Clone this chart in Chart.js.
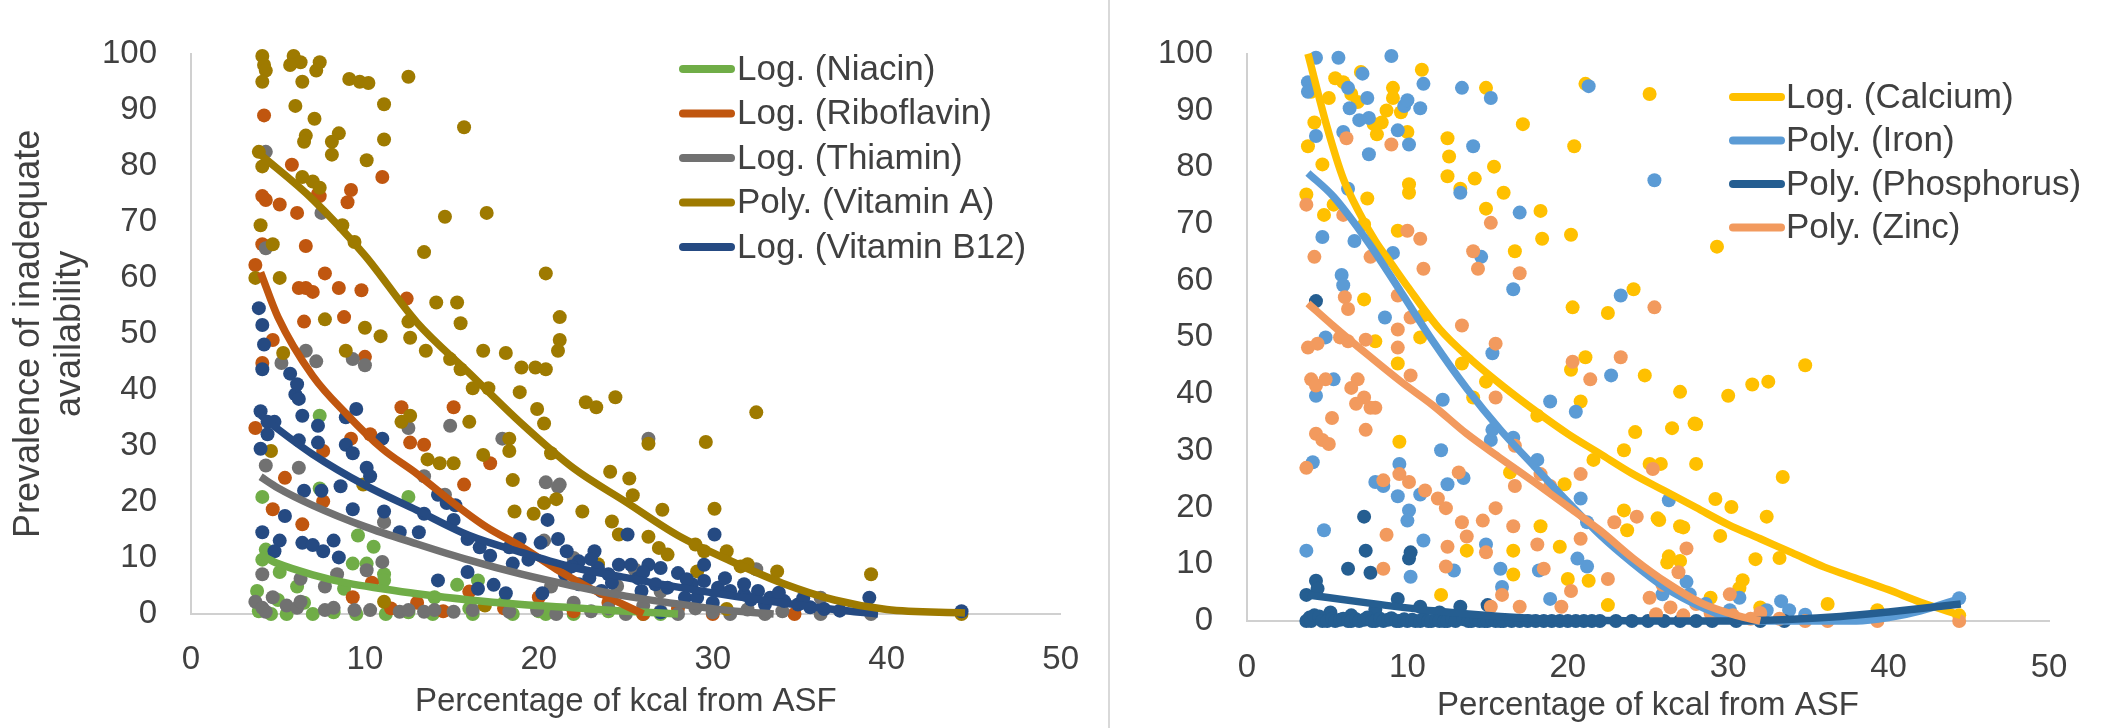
<!DOCTYPE html>
<html>
<head>
<meta charset="utf-8">
<script src="https://cdn.jsdelivr.net/npm/chart.js@4/dist/chart.umd.min.js"></script>
<style>
  html, body { margin: 0; padding: 0; background: #fff; }
  #wrap { position: relative; width: 2101px; height: 728px; overflow: hidden; }
  #left { position: absolute; left: 0; top: 0; width: 1105px; height: 728px; }
  #right { position: absolute; left: 1110px; top: 0; width: 991px; height: 728px; }
  #sep { position: absolute; left: 1108px; top: 0; width: 2px; height: 728px; background: #d9d9d9; }
</style>
</head>
<body>
<div id="wrap">
  <canvas id="left" width="1105" height="728"></canvas>
  <div id="sep"></div>
  <canvas id="right" width="991" height="728"></canvas>
</div>
<script>
// ---- data: [percentage of kcal from ASF, prevalence] ----
const niacin = [[4.1,20.9],[12.5,20.9],[7.4,35.4],[7.4,22.4],[4.1,9.7],[5.1,7.5],[6.1,4.9],[9.3,9],[10.1,9],[11.1,7.1],[11.1,6],[15.3,5.2],[3.8,4.1],[8.8,4.5],[4.3,11.5],[9.6,14],[10.5,12],[16.5,6],[14,3],[6.5,2],[5,2.5],[3.9,0.5],[4.6,0],[5.5,0],[7,0],[8.2,0.3],[9.5,0],[11.2,0],[12.5,0.3],[13.9,0],[16,1],[16.2,0],[18,2],[18.5,0],[20,0.5],[20.4,0],[22,0],[24,0.5],[26,0],[27,0]];
const riboflavin = [[4.2,89],[5.8,80.2],[11,78],[4.1,74.6],[4.3,73.9],[5.1,73.1],[6.1,71.6],[7.3,75],[7.4,74.6],[9.2,75.7],[9,73.5],[4.1,66],[6.6,65.7],[7.7,60.8],[3.7,62.3],[6.2,58.2],[6.6,58.2],[7,57.5],[8.5,58.2],[9.8,57.8],[12.4,56.3],[6.5,52.2],[8.8,53],[4.7,48.9],[4.1,44.8],[10,45.9],[3.7,33.2],[12.1,36.9],[15.1,36.9],[12.6,30.6],[13.4,30.2],[9.2,31.3],[10.3,32.1],[5.4,24.3],[7.6,29.1],[15.7,23.1],[17.2,26.9],[4.7,18.7],[6.4,16],[7.6,20.1],[9.3,3],[10.4,5.6],[13,2],[16,4],[18,1],[20,3],[22,0.5],[24,2],[26,0],[28,1],[30,0],[34.7,0],[11.5,1],[14.5,0.5]];
const thiamin = [[4.3,82.5],[4.3,65.3],[7.5,71.6],[6.6,47],[7.2,45.1],[5.2,44.8],[9.3,45.5],[10,44.4],[12.5,33.2],[14.9,33.6],[17.9,31.3],[4.3,26.5],[6.2,26.1],[13.4,24.6],[20.4,23.5],[21.2,23.1],[11.1,16.4],[14.6,21.3],[4.1,7.1],[6.3,6.3],[7.7,4.9],[8.4,7.1],[10.1,7.8],[11,9.3],[20.3,13.1],[20.7,4.9],[3.7,2.2],[4.1,1.1],[4.7,3],[4.3,0.4],[5.5,1.5],[6.1,1.1],[6.3,2.2],[7.7,0.7],[8.2,1.1],[9.4,0.7],[10.3,0.7],[12,0.4],[12.5,0.7],[13.4,0.4],[14,0.7],[15.1,0.4],[16.2,0.7],[18.3,0.4],[19.9,0.7],[21,0],[26.3,31.3],[21.1,22.7],[32.5,8],[36.2,2.9],[22,2],[23,0.5],[24,1],[25,0],[26,1.5],[27,0.5],[28,0],[29,1],[30,0.3],[31,0],[32,0.8],[33,0],[34,0.5],[36.2,0],[39.1,0],[24.5,5],[27,4],[22,10],[25.5,8]];
const vitaminA = [[4.1,99.6],[4.2,98],[4.3,97],[4.1,95],[5.9,99.6],[6.3,98.5],[5.7,98],[7.4,98.5],[7.2,97],[6.4,95],[9.1,95.5],[9.7,95],[10.2,94.8],[12.5,95.9],[6,90.7],[7.1,88.4],[11.1,91],[8.5,85.8],[6.6,85.4],[6.5,84.3],[8.1,84.3],[8.1,82],[10.1,81],[11.1,84.7],[15.7,86.9],[3.9,82.5],[4.1,79.9],[6.4,78],[7,77.2],[7.4,76.1],[4,69.4],[4.7,66],[8.7,69.4],[9.4,66.4],[14.6,70.9],[17,71.6],[13.4,64.6],[3.7,60],[5.1,60],[20.4,60.8],[7.7,52.6],[10,51.1],[10.9,49.6],[14.1,55.6],[15.3,55.6],[15.5,51.9],[12.5,52.2],[12.6,49.3],[13.5,47],[16.8,47],[18.1,46.6],[21.2,53],[21.2,48.9],[21.1,47],[8.9,47],[5.3,46.6],[14.9,45.5],[15.5,43.7],[19,44],[19.8,44],[20.4,43.7],[16.2,40.3],[17.1,40.3],[18.9,39.6],[19.9,36.6],[20.3,34],[12.1,34.3],[12.6,35.4],[16,34.3],[18.3,31.3],[18.3,29.1],[20.7,28.7],[13.6,27.6],[14.3,26.9],[15.1,26.9],[16.8,28.4],[18.5,23.9],[20.3,19.8],[21,20.5],[18.6,18.3],[19.7,17.9],[4.6,29.1],[9.9,23.1],[11.1,2.2],[16.9,1.5],[22.7,37.8],[23.3,36.9],[24.4,38.7],[32.5,36],[26.3,30.4],[29.6,30.7],[24.1,25.4],[25.2,24.2],[25.4,21.2],[27.1,18.6],[30.1,18.8],[22.5,18.3],[24.2,16.5],[24.6,14.2],[26.3,13.8],[26.9,11.8],[27.4,10.6],[29,12.4],[29.5,11.2],[30.8,11.2],[31.6,8.5],[32,8.9],[33.7,7.6],[39.1,7.1],[30.8,0.9],[44.3,0],[23.4,8.9],[29.1,7.6]];
const vitaminB12 = [[3.9,54.6],[4.1,51.6],[4.2,48.1],[4.1,43.7],[6,39.2],[5.7,42.9],[6.1,41],[6.2,38.4],[4,36.2],[4.4,34.3],[4.8,34.3],[4.4,32.1],[4,29.5],[6.4,35.4],[6.2,31],[7.3,33.6],[7.3,30.6],[9.5,36.6],[8.9,35.1],[8.9,30.2],[9.3,28.7],[11,31.3],[10.1,26.1],[10.3,24.6],[9.3,18.7],[6.5,22],[7.5,22],[8.6,22.8],[4.1,14.6],[5.1,13.1],[5.4,17.5],[6.4,12.7],[7,12.3],[7.6,11.2],[8.2,13.1],[4.8,11.2],[8.5,10.1],[11.1,18.3],[12,14.6],[13.4,17.9],[14.2,21.3],[14.7,19.8],[15.1,16.8],[15.2,19.4],[13.1,14.6],[14.2,6],[15.9,13.4],[16.6,11.9],[17.2,10.4],[18.3,11.9],[18.9,13.4],[19.4,9.7],[20.1,12.7],[20.5,16.8],[21.1,13.4],[21.6,11.2],[15.9,7.5],[16.5,4.5],[18.1,3.7],[18.5,9],[20.2,3.7],[17.4,5.2],[25.1,14.2],[23.2,11.2],[30.1,14.2],[39,2.9],[44.3,0.5],[27,0.3],[22.3,9.4],[23.4,8.2],[24.6,8.8],[25.3,8.8],[26.3,8.8],[27,8.2],[28,7.3],[21.5,7.1],[22.9,6.4],[24,7.1],[25.7,6.4],[26.7,5.3],[27.4,4.7],[28.8,5.3],[29.5,8.8],[29.5,5.9],[30.3,4.7],[31,4.1],[31.8,3.5],[32.6,4.1],[33.3,2.9],[34.1,2.3],[34.9,1.7],[35.6,1.2],[37.3,0.6],[30.7,6.4],[31.8,5.3],[28.4,2.9],[25.9,4.1],[23.6,4.1],[22.3,5.3],[29.1,2.9],[33,1.7],[21.9,8.5],[23,9.8],[24.2,5.6],[26,7.5],[28.5,6.2],[30,2],[32.2,2.6],[33.8,3.8],[35.2,2.8],[36.4,0.9]];

const calcium = [[4,93.3],[4.2,87.9],[3.8,83.7],[5.5,95.7],[6,95],[6.5,92.9],[6.9,91.5],[5.1,92.2],[4.7,80.5],[7.1,96.8],[9.1,94],[9.1,92.2],[9.6,89.7],[8.7,90],[7.9,87.6],[8.4,87.9],[8.1,85.8],[10,86.2],[10.9,97.2],[12.5,85.1],[12.6,81.9],[12.5,78.4],[13.3,76.2],[14.2,78],[15.4,80.1],[10.1,77],[10.1,75.5],[14.9,94],[17.2,87.6],[20.4,83.7],[21.1,94.7],[25.1,92.9],[16,75.5],[14.9,72.7],[18.3,72.3],[18.4,67.4],[20.2,68.1],[16.7,65.2],[20.3,55.3],[22.5,54.3],[24.1,58.5],[7.3,56.7],[8.6,63.8],[9.4,68.8],[3.7,75.2],[4.8,71.6],[5.4,73.4],[7.3,69.9],[7.5,74.5],[8,49.3],[11,53.9],[10.8,50],[9.4,45.4],[13.4,45.4],[14.1,39.4],[14.9,42.2],[20.2,44.3],[21.1,46.5],[20.8,38.7],[24.8,43.3],[27,40.4],[24.2,33.3],[23.5,30.1],[26.5,34],[27.9,34.8],[18.1,36.2],[19.8,24.1],[9.5,31.6],[16.4,26.2],[21.6,28.4],[23.5,19.5],[25.6,18.1],[25.8,27.7],[27,16.7],[23.7,16],[13.7,12.4],[16.6,12.4],[12.1,4.6],[19.5,13.1],[18.3,16.7],[20,7.4],[21.3,7.1],[22.5,2.8],[16.6,8.2],[26.2,10.3],[27,10.6],[34.8,45.1],[31.5,41.7],[32.5,42.2],[30,39.7],[28,34.7],[28,27.7],[25.1,27.7],[33.4,25.4],[29.2,21.5],[30.2,20.1],[32.4,18.4],[25.7,17.8],[27.2,16.5],[29.5,15],[31.7,10.9],[33.2,11.1],[26.3,11.4],[30.9,7.2],[30.7,5.8],[36.2,3],[39.3,1.9],[44.4,1],[28.9,4.1],[32,2.4],[29.3,66]];
const iron = [[4.3,99.3],[5.7,99.3],[9,99.6],[3.8,95],[3.8,93.3],[6.3,94],[7.2,96.5],[7.5,92.2],[6.4,90.4],[7.6,88.7],[7,88.3],[9.8,90.8],[10,91.8],[10.8,90.4],[11,94.7],[13.4,94],[15.2,92.2],[21.3,94.3],[4.3,85.5],[6,86.2],[9.4,86.5],[10.1,84],[7.6,82.3],[14.1,83.7],[25.4,77.7],[6.3,76.2],[13.3,75.5],[17,72],[14.6,64.2],[16.6,58.5],[23.3,57.4],[4.7,67.7],[5.9,61],[6,59.2],[6.7,67],[9.1,64.9],[8.6,53.5],[4.9,50],[5.4,42.6],[4.3,39.7],[15.3,47.2],[12.2,39],[18.9,38.7],[22.7,43.3],[20.5,36.9],[15.2,31.9],[15.3,33.7],[21.2,17.4],[4.1,28],[3.7,12.4],[4.8,16],[8,24.5],[8.5,23.8],[9.4,22],[9.5,27.7],[10.1,19.5],[10,17.7],[10.8,22.3],[12.1,30.1],[10.2,7.8],[11,14.2],[12.5,24.1],[13.5,25.2],[14.9,13.5],[15.8,9.2],[12.9,8.9],[16.6,32.3],[18.1,28.4],[20.8,21.6],[21.2,9.6],[20.6,11],[18.9,3.9],[15.9,6],[18.2,8.9],[26.3,21.3],[27.4,6.9],[25.9,4.7],[27.6,4.7],[30.7,4.1],[33.3,3.5],[33.8,1.9],[34.8,1.1],[44.4,4],[30.1,1.9],[32.4,1.9],[28.6,3]];
const phosphorus = [[4.3,56.4],[7.3,18.4],[7.4,12.4],[6.3,9.2],[7.7,8.5],[10.1,11],[10.2,12.1],[4.3,7.1],[4.4,5.7],[3.7,4.6],[9.4,3.9],[10.8,2.5],[13.3,2.5],[15,2.8],[5.2,1.5],[6.5,1],[8,2],[12,1.5],[3.7,0],[3.9,0.6],[4,0],[4.2,1],[4.5,0.8],[4.7,0],[5,0],[5.3,0.4],[5.5,0],[5.8,0.2],[6,0.4],[6.3,0],[6.5,0],[6.8,0.3],[7,0],[7.3,0.2],[7.5,0.6],[7.8,0],[8,0],[8.3,0.4],[8.5,0],[8.8,0.2],[9,0.5],[9.3,0],[9.5,0],[9.8,0.3],[10,0],[10.3,0.2],[10.5,0],[10.8,0],[11,0.4],[11.3,0],[11.5,0],[11.8,0.2],[12,0],[12.3,0],[12.5,0],[12.8,0.3],[13,0],[13.5,0.3],[13.8,0],[14,0],[14.3,0.2],[14.5,0],[14.8,0],[15,0],[15.3,0.2],[15.5,0],[15.8,0],[16,0],[16.5,0],[17,0],[17.5,0],[18,0],[18.5,0],[19,0],[19.5,0],[20,0],[20.5,0],[21,0],[21.5,0],[22,0],[23,0],[24,0],[25,0],[26,0],[27,0],[28,0],[29,0],[30.5,0],[32,0],[33.5,0]];
const zinc = [[9,84],[6.2,85.1],[3.7,73.4],[6,71.6],[10,68.8],[10.8,67.4],[15.2,70.2],[4.2,64.2],[14.1,65.2],[14.4,62.1],[17,61.3],[11,62.1],[7.7,64.2],[9.4,57.4],[6.1,57.1],[6.3,55],[10.2,53.5],[9.4,51.4],[13.4,52.1],[3.8,48.2],[4.4,48.9],[5.8,50],[6.3,49.3],[7.4,49.6],[15.5,48.9],[20.3,45.7],[23.3,46.5],[4,42.6],[4.3,41.5],[4.9,42.6],[6.9,42.6],[6.5,41.1],[7.7,37.6],[7.3,39.4],[8,37.6],[10.2,43.3],[9.4,48.2],[15.5,39.4],[21.4,42.6],[25.4,55.3],[4.3,33],[4.7,31.9],[5.1,31.2],[5.3,35.8],[6.8,38.3],[7.4,33.7],[3.7,27],[8.5,24.8],[9.5,25.9],[10.1,24.5],[11.1,23],[8.7,15.2],[11.9,21.6],[12.4,19.9],[13.2,26.2],[14.7,17.7],[13.4,17.4],[13.7,14.9],[12.5,13.1],[8.5,9.2],[12.4,9.6],[14.9,12.1],[15.5,19.9],[16.7,30.9],[16.7,23.8],[18.3,25.9],[18.9,23.8],[20.8,25.9],[18.1,13.5],[18.5,9.2],[20.2,5.3],[19.6,2.5],[16.6,16.7],[20.8,14.5],[22.9,17.4],[22.5,7.4],[24.3,18.4],[15.2,2.5],[17,2.5],[15.9,4.6],[25.3,26.8],[27.4,12.8],[30.1,4.7],[26.9,8.6],[25.9,6.4],[25.1,4.1],[26.4,2.4],[28,3],[28.9,1.4],[32,1.4],[34.8,0],[36.2,0],[39.3,0],[44.4,0],[31.4,0.4],[33.2,0.4],[30.3,1],[25.5,1.2],[27.2,1],[29.3,1]];

// ---- trend lines at a few x positions ----
const trendNiacin = [[4,10.5],[5,9],[7,7],[9,5.5],[11,4.5],[13,3.6],[16,2.5],[19,1.7],[22,1.1],[25,0.5],[28,0]];
const trendRiboflavin = [[4,61],[5,53],[7,42.5],[9,35.5],[11,29.5],[13,25],[15,20],[17,15.5],[19,12],[21,8],[23,4.5],[26,0]];
const trendThiamin = [[4,24.5],[5,22.5],[7,19.4],[10,15.6],[13,12.5],[16,9.6],[19,7.1],[22,5],[25,3.2],[28,1.8],[31,0.6],[33.5,0]];
const trendVitaminA = [[4,82],[7,74],[10,64],[13,52],[16,43],[19,34],[22,26],[25,20],[28,14],[31,9.5],[34,5.5],[37,2.5],[40,0.8],[44.5,0.2]];
const trendVitaminB12 = [[4,35.5],[5,33],[7,28.5],[10,23],[13,18.5],[16,14],[19,11],[22,8.3],[25,6.5],[28,4.8],[31,3.3],[34,2],[37,0.8],[39.5,0]];
const trendCalcium = [[3.8,100],[5,87],[6,78],[7,72],[8,67],[9,63],[10,59],[12,51.5],[14,46],[16,41.3],[18,37],[20,33],[22,29.5],[24,26],[26,23],[28,20],[30,17],[32,14.5],[34,12],[36,9.5],[38,7.5],[40,5.5],[42,3.3],[44.5,1]];
const trendIron = [[3.8,79],[5.4,74.8],[7.5,67],[9.6,58],[11.6,49.3],[13.7,41],[15.8,33.7],[17.9,27.3],[20,21],[22,15.2],[24,10.3],[26,6],[28.3,2.5],[31,0],[35,0],[38,0],[40,0.6],[42,1.8],[44.5,4]];
const trendPhosphorus = [[3.8,4.6],[7.5,3.2],[11.6,1.8],[15.8,0.8],[20,0.2],[25,0],[30,0],[34,0.3],[37,0.8],[40,1.6],[42,2.2],[44.5,3]];
const trendZinc = [[3.8,56],[5.4,52],[7.5,47],[9.6,42.2],[11.6,38],[13.7,33],[15.8,28.7],[17.9,24.5],[20,20.2],[22,16],[24.1,11],[26.2,6.7],[28.3,3.2],[30.5,1],[32,0]];

const xTicks = [0, 10, 20, 30, 40, 50];
const yTicks = [0, 10, 20, 30, 40, 50, 60, 70, 80, 90, 100];

const FONT = '"Liberation Sans", Arial, sans-serif';
const TEXT = '#404040';
const AXIS = '#d0d0d0';

function toXY(pts) { return pts.map(p => ({ x: p[0], y: p[1] })); }

function dots(label, pts, color, order) {
  return {
    type: 'scatter', label, data: toXY(pts),
    backgroundColor: color, borderWidth: 0,
    pointRadius: 7, pointHoverRadius: 7,
    order, clip: false
  };
}

function trend(label, pts, color, order) {
  return {
    type: 'line', label, data: toXY(pts),
    borderColor: color, backgroundColor: color,
    borderWidth: 7.5, pointRadius: 0, pointHoverRadius: 0,
    cubicInterpolationMode: 'monotone', fill: false,
    order, clip: false
  };
}

// draws the trend-line legend inside the plot
const trendLegend = {
  id: 'trendLegend',
  afterDraw(chart, args, opts) {
    const ctx = chart.ctx;
    const items = chart.data.datasets.filter(d => d.type === 'line');
    ctx.save();
    ctx.font = opts.size + 'px ' + FONT;
    ctx.textBaseline = 'middle';
    ctx.textAlign = 'left';
    items.forEach((d, i) => {
      const y = opts.top + i * opts.step;
      ctx.strokeStyle = d.borderColor;
      ctx.lineWidth = 8;
      ctx.lineCap = 'round';
      ctx.beginPath();
      ctx.moveTo(opts.x0, y);
      ctx.lineTo(opts.x1, y);
      ctx.stroke();
      ctx.fillStyle = TEXT;
      ctx.fillText(d.label, opts.tx, y + 1);
    });
    ctx.restore();
  }
};

function makeChart(id, datasets, geo, legend, yTitle) {
  return new Chart(document.getElementById(id), {
    data: { datasets },
    options: {
      responsive: false,
      animation: false,
      events: [],
      layout: { padding: { left: 0, top: geo.top, right: geo.right, bottom: 0 } },
      plugins: {
        legend: { display: false },
        tooltip: { enabled: false },
        trendLegend: legend
      },
      scales: {
        x: {
          type: 'linear', min: 0, max: 50,
          afterBuildTicks: s => { s.ticks = xTicks.map(v => ({ value: v })); },
          ticks: { padding: geo.xPad, color: TEXT, font: { family: FONT, size: 33 } },
          grid: { display: false, drawTicks: false },
          border: { display: true, color: AXIS, width: 2 },
          title: {
            display: true, text: 'Percentage of kcal from ASF', color: TEXT,
            font: { family: FONT, size: 33 }, padding: { top: 0, bottom: geo.xTitlePad }
          },
          afterFit: s => { s.height = geo.xH; }
        },
        y: {
          type: 'linear', min: 0, max: 100,
          afterBuildTicks: s => { s.ticks = yTicks.map(v => ({ value: v })); },
          ticks: { padding: 34, color: TEXT, font: { family: FONT, size: 33 } },
          grid: { display: false, drawTicks: false },
          border: { display: true, color: AXIS, width: 2 },
          title: yTitle,
          afterFit: s => { s.width = geo.yW; }
        }
      }
    },
    plugins: [trendLegend]
  });
}

const leftSets = [
  trend('Log. (Niacin)', trendNiacin, '#70AD47', 4),
  trend('Log. (Riboflavin)', trendRiboflavin, '#C0560F', 3),
  trend('Log. (Thiamin)', trendThiamin, '#717171', 2),
  trend('Poly. (Vitamin A)', trendVitaminA, '#9E7A00', 0),
  trend('Log. (Vitamin B12)', trendVitaminB12, '#254A82', 1),
  dots('Niacin', niacin, '#70AD47', 14),
  dots('Riboflavin', riboflavin, '#C0560F', 13),
  dots('Thiamin', thiamin, '#717171', 12),
  dots('Vitamin A', vitaminA, '#9E7A00', 11),
  dots('Vitamin B12', vitaminB12, '#254A82', 10)
];

const rightSets = [
  trend('Log. (Calcium)', trendCalcium, '#FFC000', 3),
  trend('Poly. (Iron)', trendIron, '#5B9BD5', 2),
  trend('Poly. (Phosphorus)', trendPhosphorus, '#255E91', 1),
  trend('Poly. (Zinc)', trendZinc, '#F29A5E', 0),
  dots('Calcium', calcium, '#FFC000', 13),
  dots('Iron', iron, '#5B9BD5', 12),
  dots('Phosphorus', phosphorus, '#255E91', 11),
  dots('Zinc', zinc, '#F29A5E', 10)
];

makeChart('left', leftSets,
  { top: 50, right: 43, xH: 114, yW: 191, xPad: 26, xTitlePad: 6 },
  { x0: 683, x1: 731, tx: 737, top: 69, step: 44.5, size: 35 },
  {
    display: true, text: ['Prevalence of inadequate', 'availability'], color: TEXT,
    font: { family: FONT, size: 36, lineHeight: 1.14 }, padding: { top: 9, bottom: 0 }
  });

makeChart('right', rightSets,
  { top: 27, right: 52, xH: 107, yW: 137, xPad: 27, xTitlePad: 2 },
  { x0: 623, x1: 671, tx: 676, top: 97, step: 43.5, size: 35 },
  { display: false });
</script>
</body>
</html>
